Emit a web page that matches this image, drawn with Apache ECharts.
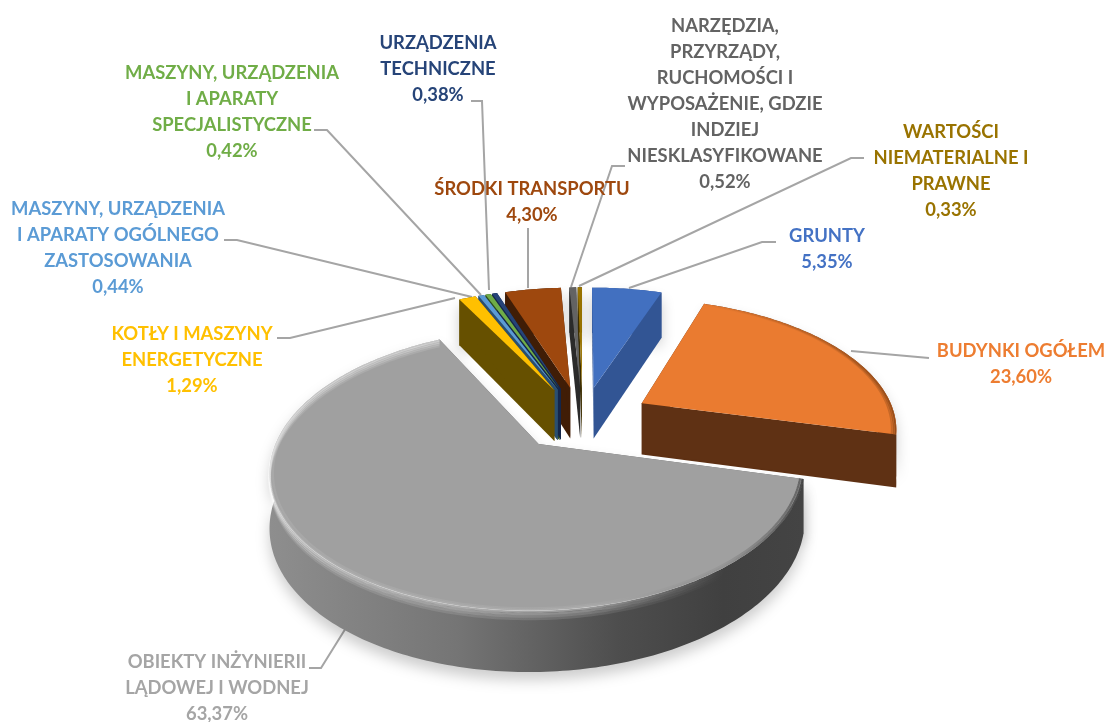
<!DOCTYPE html>
<html><head><meta charset="utf-8">
<style>html,body{margin:0;padding:0;background:#fff}#c{width:1108px;height:722px}</style>
<script src="https://cdn.jsdelivr.net/npm/echarts@6/dist/echarts.min.js"></script>
</head><body><div id="c"></div>
<script>
const categories = ["GRUNTY","BUDYNKI OGÓŁEM","OBIEKTY INŻYNIERII LĄDOWEJ I WODNEJ","KOTŁY I MASZYNY ENERGETYCZNE","MASZYNY, URZĄDZENIA I APARATY OGÓLNEGO ZASTOSOWANIA","MASZYNY, URZĄDZENIA I APARATY SPECJALISTYCZNE","URZĄDZENIA TECHNICZNE","ŚRODKI TRANSPORTU","NARZĘDZIA, PRZYRZĄDY, RUCHOMOŚCI I WYPOSAŻENIE, GDZIE INDZIEJ NIESKLASYFIKOWANE","WARTOŚCI NIEMATERIALNE I PRAWNE"];
const values = [5.35,23.60,63.37,1.29,0.44,0.42,0.38,4.30,0.52,0.33];
const topColors = ["#4270C0","#EA7B30","#A0A0A0","#FFC000","#5B9BD5","#70AD47","#264478","#9E480E","#636363","#997300"];
const sideColors = ["#325594","#5F3114","#666666","#665000","#2A4F70","#2F4F1E","#14264A","#401D06","#2B2B2B","#3D2E00"];
const labelColors = ["#4472C4","#ED7D31","#A5A5A5","#FFC000","#5B9BD5","#70AD47","#264478","#9E480E","#636363","#997300"];
const labelLines = [
 ["GRUNTY","5,35%"],
 ["BUDYNKI OGÓŁEM","23,60%"],
 ["OBIEKTY INŻYNIERII","LĄDOWEJ I WODNEJ","63,37%"],
 ["KOTŁY I MASZYNY","ENERGETYCZNE","1,29%"],
 ["MASZYNY, URZĄDZENIA","I APARATY OGÓLNEGO","ZASTOSOWANIA","0,44%"],
 ["MASZYNY, URZĄDZENIA","I APARATY","SPECJALISTYCZNE","0,42%"],
 ["URZĄDZENIA","TECHNICZNE","0,38%"],
 ["ŚRODKI TRANSPORTU","4,30%"],
 ["NARZĘDZIA,","PRZYRZĄDY,","RUCHOMOŚCI I","WYPOSAŻENIE, GDZIE","INDZIEJ","NIESKLASYFIKOWANE","0,52%"],
 ["WARTOŚCI","NIEMATERIALNE I","PRAWNE","0,33%"]
];
// label anchor: centre x, centre y of first line
const labelAnchors = [[827,236],[1021,351],[217,662],[192,334],[118,209],[232,73],[438,43],[532,189],[725,26],[951,132]];
const leaderPaths = [
 [[776,242],[762,242],[629,288]],
 [[851,351],[929,358]],
 [[309,668],[321,668],[354,615]],
 [[277,338],[290,338],[455,298]],
 [[224,240],[237,240],[472,297]],
 [[314,130],[327,130],[481,295]],
 [[471,101],[482,101],[489,290]],
 [[528,228],[528,288]],
 [[625,166],[612,166],[571,287]],
 [[864,158],[851,158],[579,286]]
];
// projection constants
const CX=582.6, CY=418, A=254, B=127.4, K=0.175, EX=0.27, EY=0.25, D=52;
const total = values.reduce((a,b)=>a+b,0);
const DEG=Math.PI/180;
function project(theta,r,phi,drop){
  const X=EX*Math.sin(phi)+r*Math.sin(theta), Y=-EY*Math.cos(phi)-r*Math.cos(theta);
  const s=1/(1-K*Y);
  return [CX+A*X*s, CY+B*Y*s+(drop?D*Math.pow(s,0.7)*drop:0)];
}
function arc(t0,t1,r,phi,drop){
  const n=Math.max(2,Math.ceil((t1-t0)/(1*DEG))),pts=[];
  for(let i=0;i<=n;i++)pts.push(project(t0+(t1-t0)*i/n,r,phi,drop));
  return pts;
}
const H=(c)=>({type:'linear',x:0,y:0,x2:1,y2:0,colorStops:c});
function renderItem(params,api){
  const idx=params.dataIndex;
  let before=0; for(let i=0;i<idx;i++)before+=values[i];
  const v=api.value(0);
  const t0=before/total*360*DEG, t1=(before+v)/total*360*DEG, phi=(t0+t1)/2;
  const z=Math.round((-Math.cos(phi)+1)*100)*10;
  const apex=project(0,0,phi,0), apexB=project(0,0,phi,1);
  const topArc=arc(t0,t1,1,phi,0), botArc=arc(t0,t1,1,phi,1);
  const isGrey=idx===2, isOrange=idx===1;
  const side=sideColors[idx];
  const shadow={shadowBlur:14,shadowColor:'rgba(0,0,0,0.2)',shadowOffsetY:8};
  const wallFill=isGrey?H([{offset:0,color:'#8E8E8E'},{offset:.35,color:'#757575'},{offset:.65,color:'#4E4E4E'},{offset:.85,color:'#404040'},{offset:1,color:'#444444'}]):side;
  const kids=[];
  const face=(pts,fill,extra,zz)=>kids.push({type:'polygon',z2:z+zz,silent:true,shape:{points:pts},style:Object.assign({fill},extra||{})});
  face(topArc.concat(botArc.slice().reverse()),wallFill,shadow,isGrey?3:0);
  face([apex,topArc[0],botArc[0],apexB],side,isGrey?shadow:{},1);
  face([apex,topArc[topArc.length-1],botArc[botArc.length-1],apexB],side,isGrey?shadow:{},2);
  face([apex].concat(topArc),topColors[idx],{},5);
  if(isGrey){
    // soft bevel along the front of the rim only
    const tEnd=t0+(t1-t0)*0.80;
    for(let i=0;i<4;i++){
      const d=0.015+i*0.04, a=0.4-i*0.095;
      kids.push({type:'polyline',z2:z+6,silent:true,shape:{points:arc(t0,t1,1,phi,d)},
       style:{fill:null,lineWidth:2.4,stroke:H([{offset:0,color:'rgba(255,255,255,'+a+')'},{offset:.6,color:'rgba(255,255,255,'+a+')'},{offset:.85,color:'rgba(255,255,255,0)'},{offset:1,color:'rgba(255,255,255,0)'}])}});
    }
    for(let i=0;i<2;i++){
      kids.push({type:'polyline',z2:z+6,silent:true,shape:{points:arc(t0,tEnd,0.997-i*0.009,phi,0)},
       style:{fill:null,lineWidth:2.2,stroke:H([{offset:0,color:'rgba(215,215,215,'+(0.25-i*.1)+')'},{offset:.6,color:'rgba(205,205,205,'+(0.22-i*.1)+')'},{offset:.85,color:'rgba(70,70,70,'+(0.15-i*.05)+')'},{offset:1,color:'rgba(40,40,40,'+(0.75-i*.25)+')'}])}});
    }
  }
  if(isOrange){
    for(let i=0;i<3;i++){
      kids.push({type:'polyline',z2:z+6,silent:true,shape:{points:arc(t0,t1,0.996-i*0.007,phi,0)},
       style:{fill:null,lineWidth:1.6,stroke:H([{offset:0,color:'rgba(110,55,15,0)'},{offset:.6,color:'rgba(110,55,15,'+(0.3-i*.1)+')'},{offset:1,color:'rgba(110,55,15,'+(0.7-i*.2)+')'}])}});
    }
  }
  return {type:'group',children:kids};
}
const graphics=[];
leaderPaths.forEach(p=>graphics.push({type:'polyline',silent:true,z:1,shape:{points:p},style:{fill:null,stroke:'#A5A5A5',lineWidth:2}}));
labelLines.forEach((lines,i)=>{
  lines.forEach((t,j)=>graphics.push({type:'text',silent:true,z:5,x:labelAnchors[i][0],y:labelAnchors[i][1]+j*26,
    style:{text:t,fill:labelColors[i],font:'bold 18.4px Lato, "Open Sans", sans-serif',align:'center',verticalAlign:'middle'}}));
});
const chart=echarts.init(document.getElementById('c'),null,{renderer:'canvas'});
chart.setOption({
  animation:false,
  backgroundColor:'#fff',
  graphic:graphics,
  series:[{type:'custom',coordinateSystem:'none',silent:true,renderItem:renderItem,z:3,
    data:values.map((v,i)=>({name:categories[i],value:[v]}))}]
});
</script></body></html>
